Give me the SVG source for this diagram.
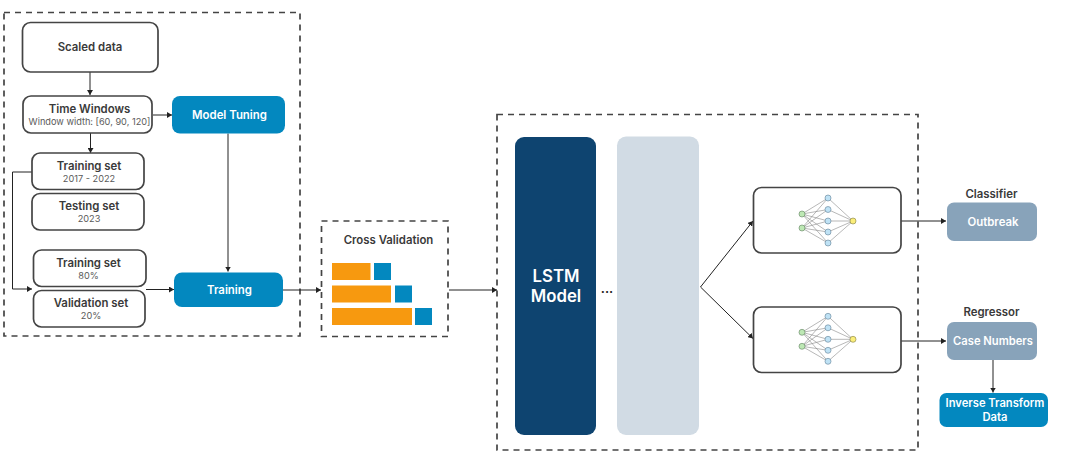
<svg xmlns="http://www.w3.org/2000/svg" xmlns:xlink="http://www.w3.org/1999/xlink" width="1068" height="461" viewBox="0 0 1068 461">
<style>
text{font-family:Inter,"Liberation Sans",sans-serif;text-anchor:middle}
.t{font-size:11.4px;font-weight:600;fill:#3a3a3a}
.s{font-size:9.2px;fill:#5a5a5a}
.w{font-size:11.4px;font-weight:600;fill:#fff}
.box{fill:#fff;stroke:#444;stroke-width:1.7}
.dash{fill:none;stroke:#444;stroke-width:1.7;stroke-dasharray:6 5}
.blue{fill:#0388bf}
.grey{fill:#88a3ba}
.c{fill:none;stroke:#222;stroke-width:1}
.nl{stroke:#888;stroke-width:.6}
.g{fill:#bde8b4;stroke:#5f7f5f;stroke-width:.6}
.h{fill:#bfe2f5;stroke:#5f7f95;stroke-width:.6}
.y{fill:#fbee7a;stroke:#7f7a40;stroke-width:.6}
</style>
<defs>
<marker id="a" markerWidth="6" markerHeight="6" refX="5" refY="3" orient="auto" markerUnits="userSpaceOnUse"><path d="M0 0L5 3L0 6Z" fill="#222"/></marker>
<g id="nn">
<path class="nl" d="M802 214L828 198M802 214L828 209.500M802 214L828 221M802 214L828 232M802 214L828 243M802 228L828 198M802 228L828 209.500M802 228L828 221M802 228L828 232M802 228L828 243M828 198L853 221M828 209.500L853 221M828 221L853 221M828 232L853 221M828 243L853 221"/>
<circle class="g" cx="802" cy="214" r="3"/><circle class="g" cx="802" cy="228" r="3"/>
<circle class="h" cx="828" cy="198" r="3"/><circle class="h" cx="828" cy="209.500" r="3"/><circle class="h" cx="828" cy="221" r="3"/><circle class="h" cx="828" cy="232" r="3"/><circle class="h" cx="828" cy="243" r="3"/>
<circle class="y" cx="853" cy="221" r="3"/>
</g>
</defs>
<g id="frames">
<rect class="dash" x="4" y="12.500" width="296" height="323.500"/>
<rect class="dash" x="321.500" y="221" width="126.500" height="115.500"/>
<rect class="dash" x="497" y="114.500" width="421" height="335.500"/>
</g>
<g id="connectors">
<path class="c" d="M90 72V95" marker-end="url(#a)"/>
<path class="c" d="M153 115H172" marker-end="url(#a)"/>
<path class="c" d="M90.500 133V153" marker-end="url(#a)"/>
<path class="c" d="M228 133.500V271.500" marker-end="url(#a)"/>
<path class="c" d="M32 172H12.500V289H32" marker-end="url(#a)"/>
<path class="c" d="M146 289.500H174" marker-end="url(#a)"/>
<path class="c" d="M283 290H321" marker-end="url(#a)"/>
<path class="c" d="M449 290H497" marker-end="url(#a)"/>
<path class="c" d="M700.500 287L753 338.500" marker-end="url(#a)"/>
<path class="c" d="M700.500 287L753 221" marker-end="url(#a)"/>
<path class="c" d="M901 221H946" marker-end="url(#a)"/>
<path class="c" d="M901 341H946" marker-end="url(#a)"/>
<path class="c" d="M993 360V392.500" marker-end="url(#a)"/>
</g>
<g id="scaled-data"><rect class="box" x="22.500" y="22.500" width="135.500" height="49.500" rx="8"/><text class="t" x="90" y="50.500">Scaled data</text></g>
<g id="time-windows"><rect class="box" x="23" y="96" width="129" height="37" rx="8"/><text class="t" x="89.500" y="113">Time Windows</text><text class="s" x="89.500" y="124.500">Window width: [60, 90, 120]</text></g>
<g id="model-tuning"><rect class="blue" x="172" y="96" width="113" height="37.500" rx="8"/><text class="w" x="229.500" y="119">Model Tuning</text></g>
<g id="training-set-1"><rect class="box" x="32" y="153" width="112" height="36.500" rx="8"/><text class="t" x="89" y="170">Training set</text><text class="s" x="89" y="181.500">2017 - 2022</text></g>
<g id="testing-set"><rect class="box" x="32" y="193.500" width="112" height="36.500" rx="8"/><text class="t" x="89" y="210">Testing set</text><text class="s" x="89" y="221.500">2023</text></g>
<g id="training-set-2"><rect class="box" x="33.500" y="250" width="112.500" height="36.500" rx="8"/><text class="t" x="88.500" y="267">Training set</text><text class="s" x="88.500" y="278.500">80%</text></g>
<g id="validation-set"><rect class="box" x="33.500" y="290.500" width="111.500" height="36.500" rx="8"/><text class="t" x="91" y="307">Validation set</text><text class="s" x="91" y="318.500">20%</text></g>
<g id="training"><rect class="blue" x="174" y="272.500" width="109" height="34.500" rx="8"/><text class="w" x="229.500" y="294">Training</text></g>
<g id="cross-validation">
<text class="t" x="388.500" y="244">Cross Validation</text>
<rect x="332" y="263" width="38.500" height="17" fill="#f7990f"/><rect class="blue" x="374" y="263" width="17" height="17"/>
<rect x="332" y="285.500" width="59" height="17" fill="#f7990f"/><rect class="blue" x="395" y="285.500" width="17" height="17"/>
<rect x="332" y="308" width="80" height="17" fill="#f7990f"/><rect class="blue" x="415" y="308" width="17" height="17"/>
</g>
<g id="lstm-model"><rect x="515" y="137" width="81" height="298" rx="9" fill="#0e4470"/><text x="556" y="282" font-size="16.800px" font-weight="600" fill="#fff">LSTM</text><text x="556" y="302" font-size="16.800px" font-weight="600" fill="#fff">Model</text></g>
<g id="ellipsis"><text x="607" y="293" font-size="13px" font-weight="600" fill="#222">...</text></g>
<g id="lstm-layer"><rect x="617" y="136.500" width="82" height="298.500" rx="9" fill="#d1dbe4"/></g>
<g id="network-1"><rect class="box" x="753.500" y="187.500" width="147.500" height="65.500" rx="8"/><use xlink:href="#nn" href="#nn"/></g>
<g id="network-2"><rect class="box" x="753.500" y="307" width="147.500" height="65.500" rx="8"/><use xlink:href="#nn" href="#nn" y="118.300"/></g>
<g id="classifier"><text class="t" x="991.500" y="198">Classifier</text><rect class="grey" x="947" y="202.500" width="90" height="38.500" rx="7"/><text class="w" x="993" y="225.500">Outbreak</text></g>
<g id="regressor"><text class="t" x="991.500" y="316">Regressor</text><rect class="grey" x="947" y="322" width="90" height="38" rx="7"/><text class="w" style="font-size:11.200px" x="993" y="344.500">Case Numbers</text></g>
<g id="inverse-transform"><rect class="blue" x="939.500" y="393" width="108.500" height="34" rx="7"/><text class="w" style="font-size:11.200px" x="995" y="407">Inverse Transform</text><text class="w" style="font-size:11.200px" x="995" y="421">Data</text></g>
</svg>
